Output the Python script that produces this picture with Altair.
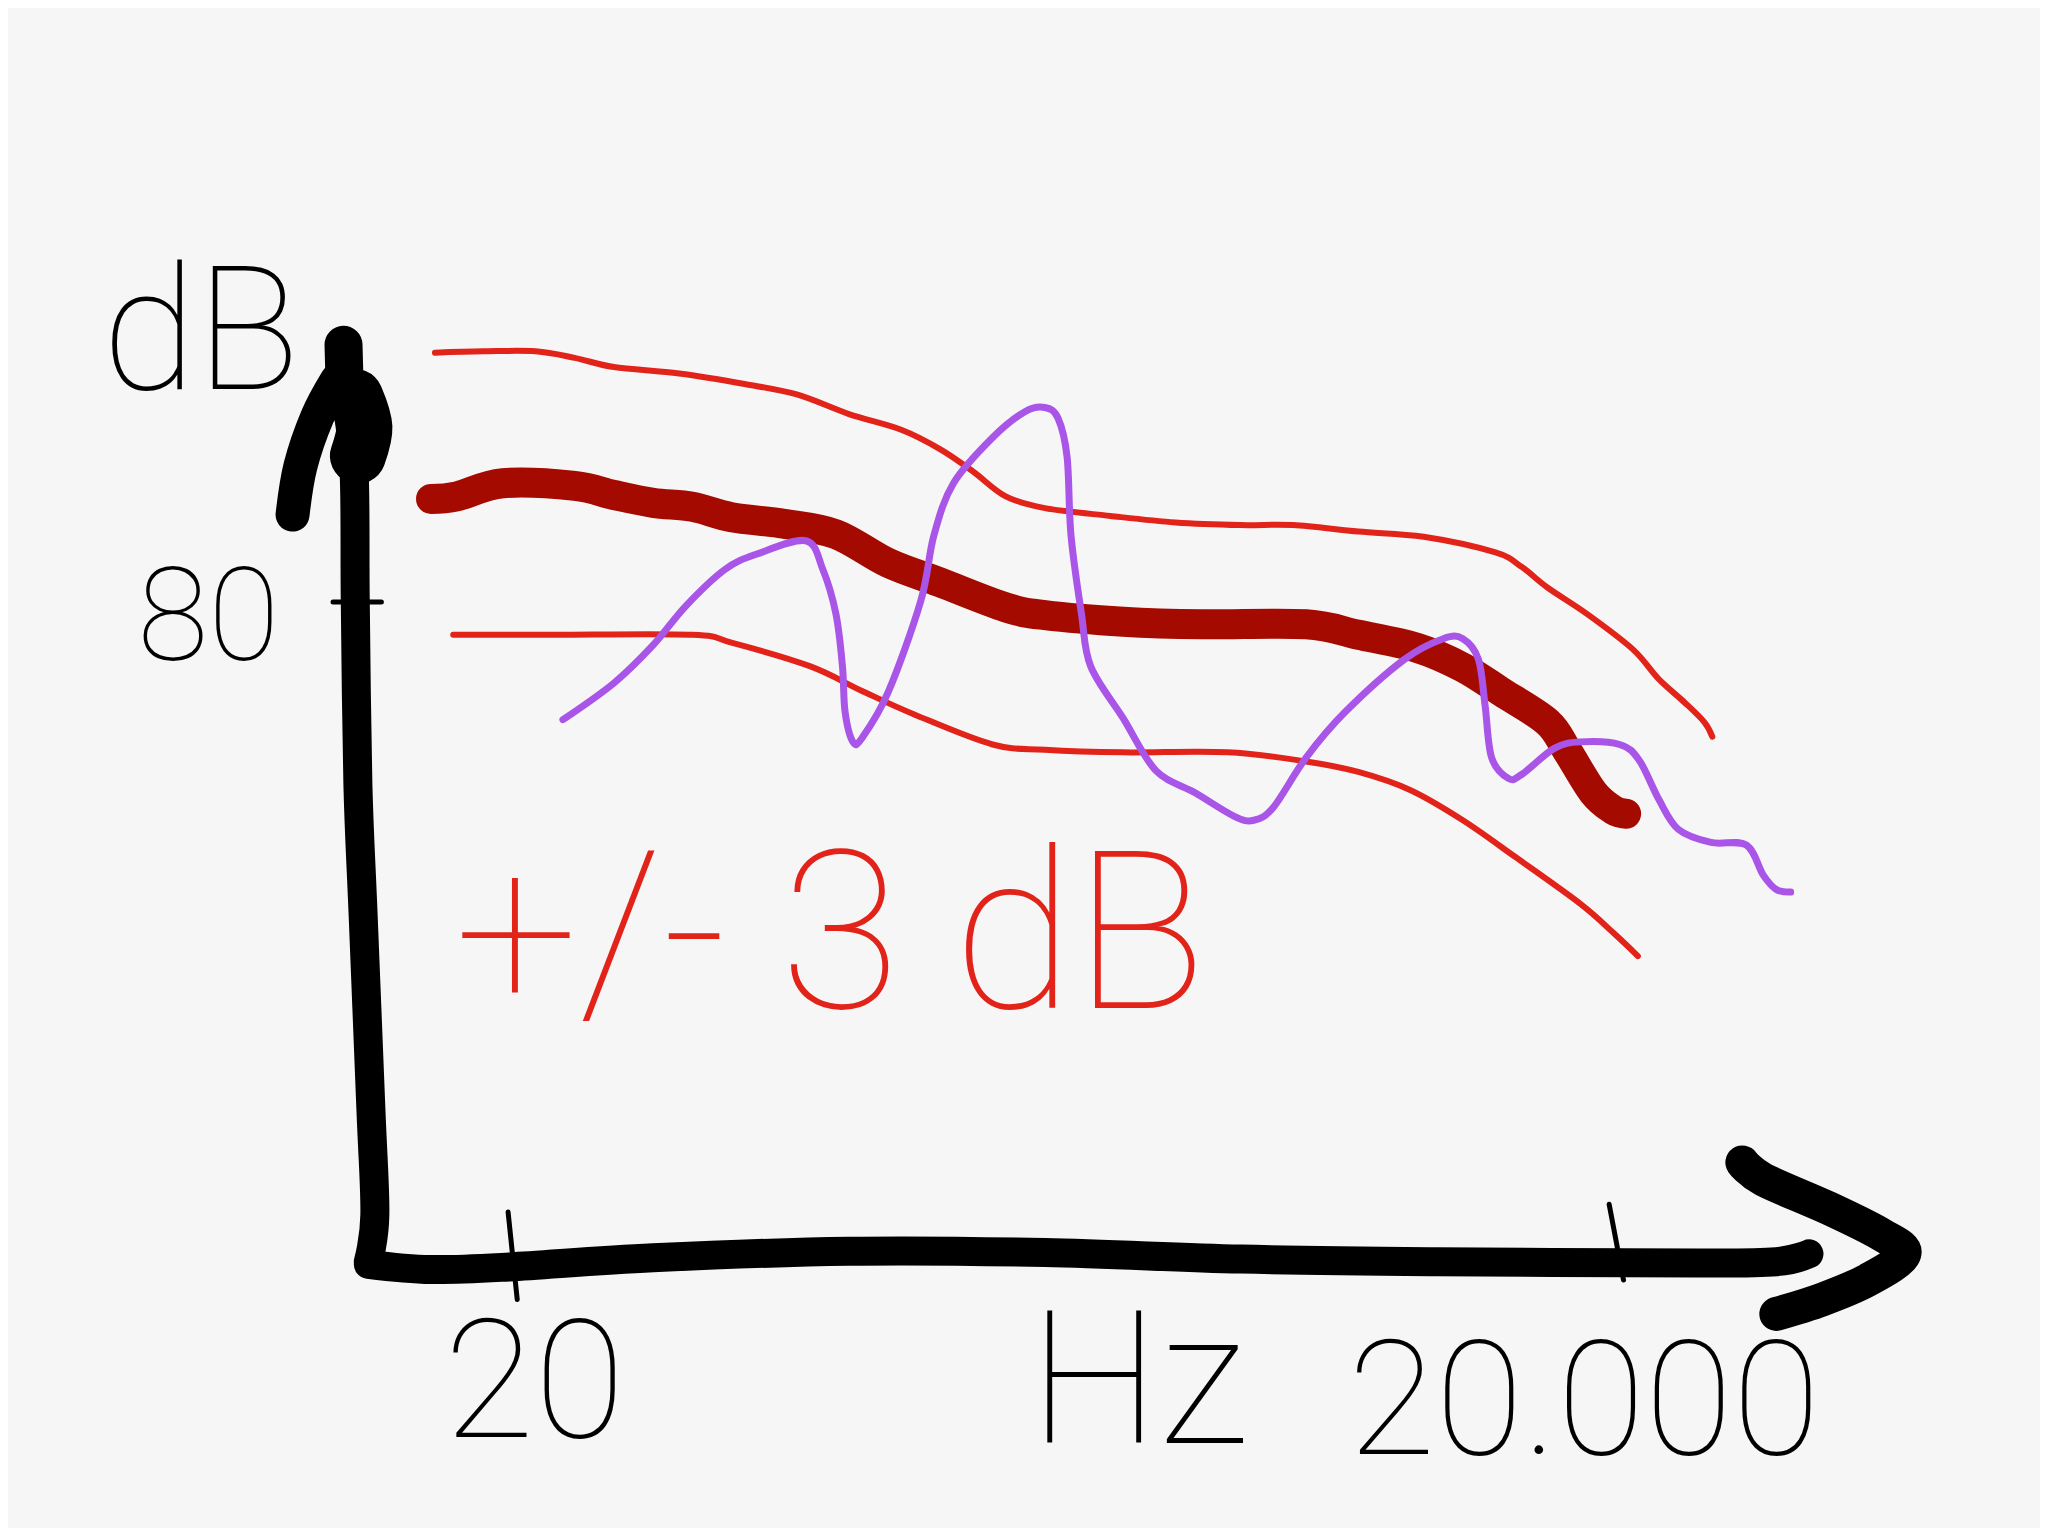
import altair as alt
import pandas as pd

upper_x = [333,370,410,440,470,520,570,610,650,690,720,745,770,800,850,900,950,990,1040,1090,1145,1165,1185,1215,1250,1270,1290,1305,1311]
upper_y = [270,269,269,274,281,286,294,302,317,329,344,361,380,389,395,400,402,402,407,411,423,434,450,470,497,520,538,553,564]
mid_x = [330,350,385,440,470,500,530,560,600,640,680,720,770,800,860,920,1000,1040,1085,1120,1150,1185,1200,1220,1235,1245]
mid_y = [382,380,370,372,379,385,388,396,401,409,431,446,465,471,476,478,478,486,496,511,530,553,575,607,620,623]
lower_x = [347,420,530,560,620,660,700,760,800,860,940,1000,1040,1080,1120,1160,1210,1235,1254]
lower_y = [486,486,486,492,510,529,547,570,574,576,576,583,591,605,628,656,692,714,732]
measured_x = [431,470,500,525,555,580,617,630,640,645,647,653,660,680,705,715,730,760,785,800,810,817,820,828,835,860,885,915,945,960,975,1000,1030,1075,1105,1120,1132,1137,1142,1155,1165,1190,1210,1240,1255,1270,1285,1310,1337,1350,1360,1371]
measured_y = [551,523,494,464,436,424,414,436,470,510,545,568,565,530,460,410,370,335,315,312,320,350,410,470,510,550,590,607,625,628,618,580,545,505,489,489,505,540,580,596,593,573,568,570,582,612,635,645,647,670,681,683]
yaxis_x = [264,271,272,274,278,284,287,282]
yaxis_y = [300,358,460,600,700,850,930,966]
ytop_x = [263,264]
ytop_y = [264,300]
xaxis_x = [282,330,390,500,650,800,950,1100,1300,1360,1385]
xaxis_y = [968,972,970,963,958,959,964,966,967,966,960]
yleft_x = [224,230,243,258]
yleft_y = [394,357,319,291]
yright_x = [272,279,274]
yright_y = [304,327,349]
xhead_x = [1334,1350,1400,1440,1458,1430,1395,1360]
xhead_y = [890,903,925,945,960,980,995,1006]
tick80_x = [255,292]
tick80_y = [461,461]
tick20_x = [389,396]
tick20_y = [928,995]
tick20k_x = [1232,1243]
tick20k_y = [922,980]

label_text = ["dB", "80", "+/- 3 dB", "20", "Hz", "20.000"]
label_x = [78, 105, 348, 340, 788, 1032]
label_y = [298, 505, 772, 1100, 1105, 1113]
label_size = [172, 130, 220, 165, 185, 160]
label_color = ["#000000", "#000000", "#e2231a", "#000000", "#000000", "#000000"]

X = alt.Scale(domain=[8 / 1.30612, 2040 / 1.30612])
Y = alt.Scale(domain=[1528 / 1.30612, 8 / 1.30612])


def stroke(xs, ys, color, width, curve="cardinal"):
    df = pd.DataFrame({"x": xs, "y": ys, "i": range(len(xs))})
    return alt.Chart(df).mark_line(
        color=color, strokeWidth=width, strokeCap="round", strokeJoin="round",
        interpolate=curve, clip=False,
    ).encode(
        x=alt.X("x:Q", scale=X, axis=None),
        y=alt.Y("y:Q", scale=Y, axis=None),
        order="i:Q",
    )


labels = pd.DataFrame({"t": label_text, "x": label_x, "y": label_y, "s": label_size, "c": label_color})
text = alt.Chart(labels).mark_text(
    font="Roboto", fontWeight=100, align="left", baseline="alphabetic"
).encode(
    x=alt.X("x:Q", scale=X, axis=None),
    y=alt.Y("y:Q", scale=Y, axis=None),
    text="t:N",
    size=alt.Size("s:Q", scale=None, legend=None),
    color=alt.Color("c:N", scale=None, legend=None),
)

chart = alt.layer(
    stroke(upper_x, upper_y, "#e2231a", 6),
    stroke(lower_x, lower_y, "#e2231a", 6),
    stroke(mid_x, mid_y, "#a50a00", 30),
    stroke(measured_x, measured_y, "#a855e8", 7),
    stroke(yaxis_x, yaxis_y, "#000000", 29),
    stroke(ytop_x, ytop_y, "#000000", 38, "linear"),
    stroke(xaxis_x, xaxis_y, "#000000", 29),
    stroke(yleft_x, yleft_y, "#000000", 34),
    stroke(yright_x, yright_y, "#000000", 56),
    stroke(xhead_x, xhead_y, "#000000", 34),
    stroke(tick80_x, tick80_y, "#000000", 5, "linear"),
    stroke(tick20_x, tick20_y, "#000000", 5, "linear"),
    stroke(tick20k_x, tick20k_y, "#000000", 5, "linear"),
    text,
).properties(
    width=2032, height=1520, padding=0, background="#f6f6f6",
    autosize=alt.AutoSizeParams(type="none"),
).configure_view(strokeWidth=0, fill="#f6f6f6")

chart.save("out.html", embed_options={"renderer": "svg", "actions": False})
